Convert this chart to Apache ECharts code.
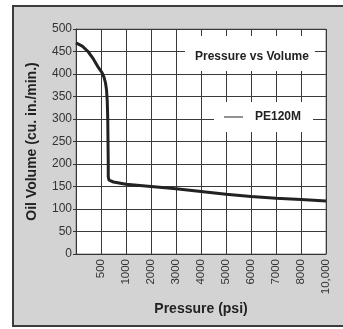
<!DOCTYPE html>
<html><head><meta charset="utf-8">
<script src="https://cdn.jsdelivr.net/npm/echarts@6/dist/echarts.min.js"></script>
<style>
html,body{margin:0;padding:0;background:#fff;width:343px;height:329px;overflow:hidden}
#frame{position:absolute;left:12px;top:5px;width:340px;height:322px;background:#d3d3d3;border:2px solid #3c3c3c;border-right:none;box-sizing:border-box}
#chart{position:absolute;left:0;top:0;width:343px;height:329px}
</style></head><body>
<div id="frame"></div><div id="chart"></div>
<script>
// x-axis tick labels (equally spaced category positions 0..10)
const xTickLabels = ['', '500', '1000', '2000', '3000', '4000', '5000', '6000', '7000', '8000', '10,000'];
// curve position along the x-axis (in tick-slot units) and oil volume values
const curvePos = [0, 0.25, 0.48, 0.7, 0.9, 1.04, 1.12, 1.18, 1.22, 1.25, 1.27, 1.28, 1.29, 1.29, 1.32, 1.5, 2, 3, 4, 5, 6, 7, 8, 9, 10];
const oilVolume = [469, 462, 450, 433, 414, 403, 393, 380, 365, 340, 300, 250, 200, 172, 164, 160, 155, 150, 145, 139, 133, 128, 124, 121, 118];
const seriesName = 'PE120M';
const chartTitle = 'Pressure vs Volume';

const SANS = '"Liberation Sans", Arial, sans-serif';
const chart = echarts.init(document.getElementById('chart'));
chart.setOption({
  animation: false,
  title: {
    text: chartTitle, left: 185, top: 36, padding: [15, 6, 8, 10],
    backgroundColor: '#fff',
    textStyle: { fontFamily: SANS, fontWeight: 'bold', fontSize: 12, color: '#222' }
  },
  legend: {
    left: 214, top: 102, padding: [9, 12, 9, 10], backgroundColor: '#fff',
    icon: 'rect', itemWidth: 19, itemHeight: 1,
    itemStyle: { color: '#222' },
    textStyle: { fontFamily: SANS, fontWeight: 'bold', fontSize: 12, color: '#222', padding: [0, 0, 0, 7] },
    data: [seriesName]
  },
  grid: { left: 76, right: 17, top: 29, bottom: 75, show: true, backgroundColor: '#fff', borderColor: '#888', borderWidth: 1 },
  xAxis: {
    type: 'value', min: 0, max: 10, interval: 1,
    name: 'Pressure (psi)', nameLocation: 'middle', nameGap: 47,
    nameTextStyle: { fontFamily: SANS, fontWeight: 'bold', fontSize: 14, color: '#222' },
    axisLine: { lineStyle: { color: '#333', width: 1 } },
    axisTick: { show: false },
    axisLabel: { rotate: 90, margin: 5, fontFamily: SANS, fontSize: 11.5, color: '#333',
      formatter: v => xTickLabels[Math.round(v)] },
    splitLine: { lineStyle: { color: '#3a3a3a', width: 1 } }
  },
  yAxis: {
    type: 'value', min: 0, max: 500, interval: 50,
    name: 'Oil Volume (cu. in./min.)', nameLocation: 'middle', nameGap: 37,
    nameTextStyle: { fontFamily: SANS, fontWeight: 'bold', fontSize: 14, color: '#222' },
    axisLine: { show: true, lineStyle: { color: '#333', width: 1 } },
    axisTick: { show: true, length: 3, lineStyle: { color: '#333' } },
    axisLabel: { margin: 4, fontFamily: SANS, fontSize: 12, color: '#333' },
    splitLine: { lineStyle: { color: '#3a3a3a', width: 1 } }
  },
  series: [{
    name: seriesName, type: 'line', symbol: 'none', smooth: false,
    lineStyle: { color: '#222', width: 3 },
    itemStyle: { color: '#222' },
    data: curvePos.map((p, i) => [p, oilVolume[i]])
  }]
});
</script></body></html>
